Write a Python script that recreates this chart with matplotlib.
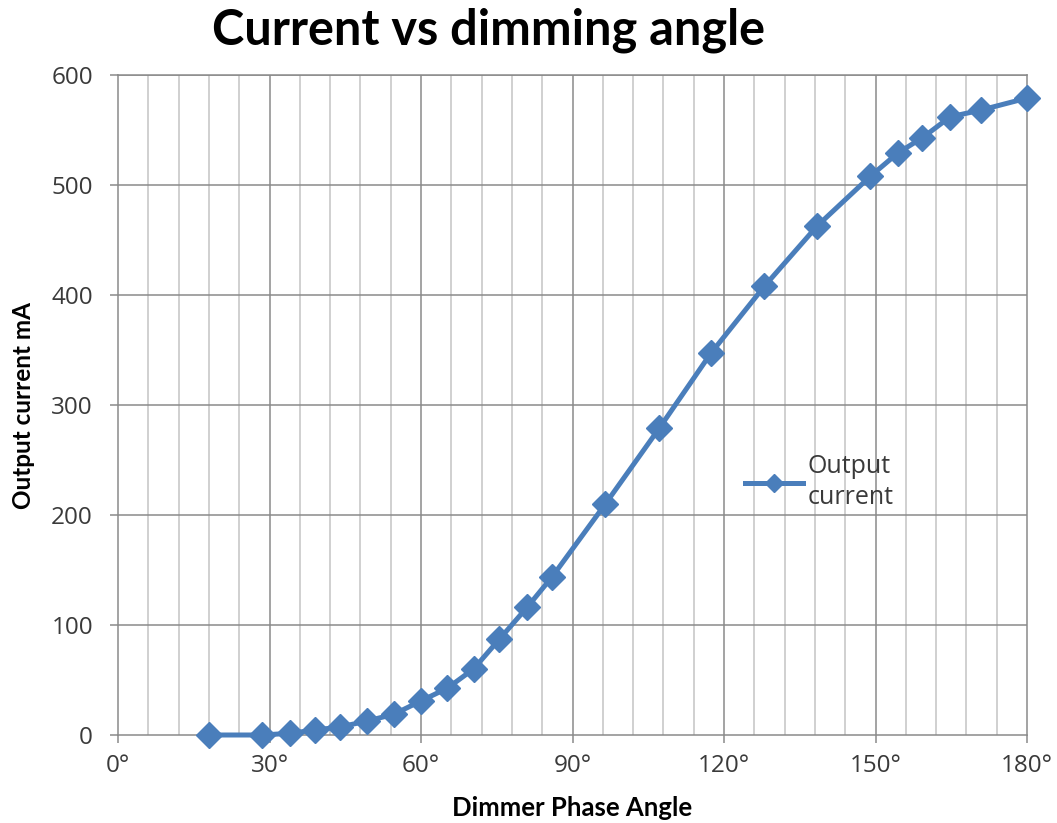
import matplotlib
matplotlib.use("Agg")
import matplotlib.pyplot as plt
import numpy as np

# ================= DATA =================
angle_deg = [18, 28.5, 34, 39, 44, 49.3, 54.6, 60, 65.2, 70.4, 75.5, 81, 86,
             96.5, 107.2, 117.4, 128, 138.5, 149, 154.4, 159.3, 164.8, 170.8, 180]
current_ma = [0, 0, 1.5, 4.5, 7.3, 12.7, 18.8, 31, 42.5, 60, 87, 116, 144,
              210, 279, 347, 408, 463, 508, 529, 543, 562, 568, 579]

x_major = [0, 30, 60, 90, 120, 150, 180]
x_labels = ["0°", "30°", "60°", "90°", "120°", "150°", "180°"]
y_major = [0, 100, 200, 300, 400, 500, 600]

title = "Current vs dimming angle"
xlabel = "Dimmer Phase Angle"
ylabel = "Output current mA"
series_name = "Output\ncurrent"
# =================================================================

LINE_COLOR = "#4A7EBB"
TICK_FONT = "Open Sans"
BOLD_FONT = "Lato"

fig = plt.figure(figsize=(10.57, 8.23), dpi=100)
W, H = 1057, 823
ax = fig.add_axes([118 / W, 1 - 735 / H, (1027 - 118) / W, (735 - 75) / H])

# grid: light every 6 deg, darker at the labelled angles and every 100 mA
for xv in np.arange(6, 180, 6):
    if xv % 30 == 0:
        ax.axvline(xv, color="#8a8a8a", lw=1.1, zorder=0)
    else:
        ax.axvline(xv, color="#c4c4c4", lw=1.1, zorder=0)
for yv in y_major[1:]:
    ax.axhline(yv, color="#8a8a8a", lw=1.1, zorder=0)

ax.plot(angle_deg, current_ma, color=LINE_COLOR, lw=3.6, marker="D",
        markersize=13.5, markerfacecolor=LINE_COLOR, markeredgecolor=LINE_COLOR,
        label=series_name, zorder=3, clip_on=False)

ax.set_xlim(0, 180)
ax.set_ylim(0, 600)
ax.set_xticks(x_major)
ax.set_xticklabels(x_labels)
ax.set_yticks(y_major)

for s in ax.spines.values():
    s.set_color("#8a8a8a")
    s.set_linewidth(1.1)

ax.tick_params(axis="both", direction="out", length=6, width=1.1,
               color="#8a8a8a", labelcolor="#3a3a3a", labelsize=17.5)
ax.tick_params(axis="y", pad=12)
ax.tick_params(axis="x", pad=8)
for lab in ax.get_xticklabels() + ax.get_yticklabels():
    lab.set_fontfamily(TICK_FONT)

fig.text(488 / W, 1 - 30 / H, title, ha="center", va="center",
         fontsize=35, fontweight="bold", family=BOLD_FONT, color="black")
fig.text(572 / W, 1 - 808 / H, xlabel, ha="center", va="center",
         fontsize=18.5, fontweight="bold", family=BOLD_FONT, color="black")
fig.text(24 / W, 1 - 405 / H, ylabel, ha="center", va="center", rotation=90,
         fontsize=17.5, fontweight="bold", family=BOLD_FONT, color="black")

leg = ax.legend(loc="center left", bbox_to_anchor=(745 / W, 1 - 482 / H),
                bbox_transform=fig.transFigure, frameon=False,
                handlelength=2.3, handletextpad=0.2, borderpad=0,
                borderaxespad=0, markerscale=0.7,
                prop={"family": TICK_FONT, "size": 18})
for t in leg.get_texts():
    t.set_color("#3a3a3a")
    t.set_linespacing(1.3)

fig.savefig("out.png", dpi=100, facecolor="white")
